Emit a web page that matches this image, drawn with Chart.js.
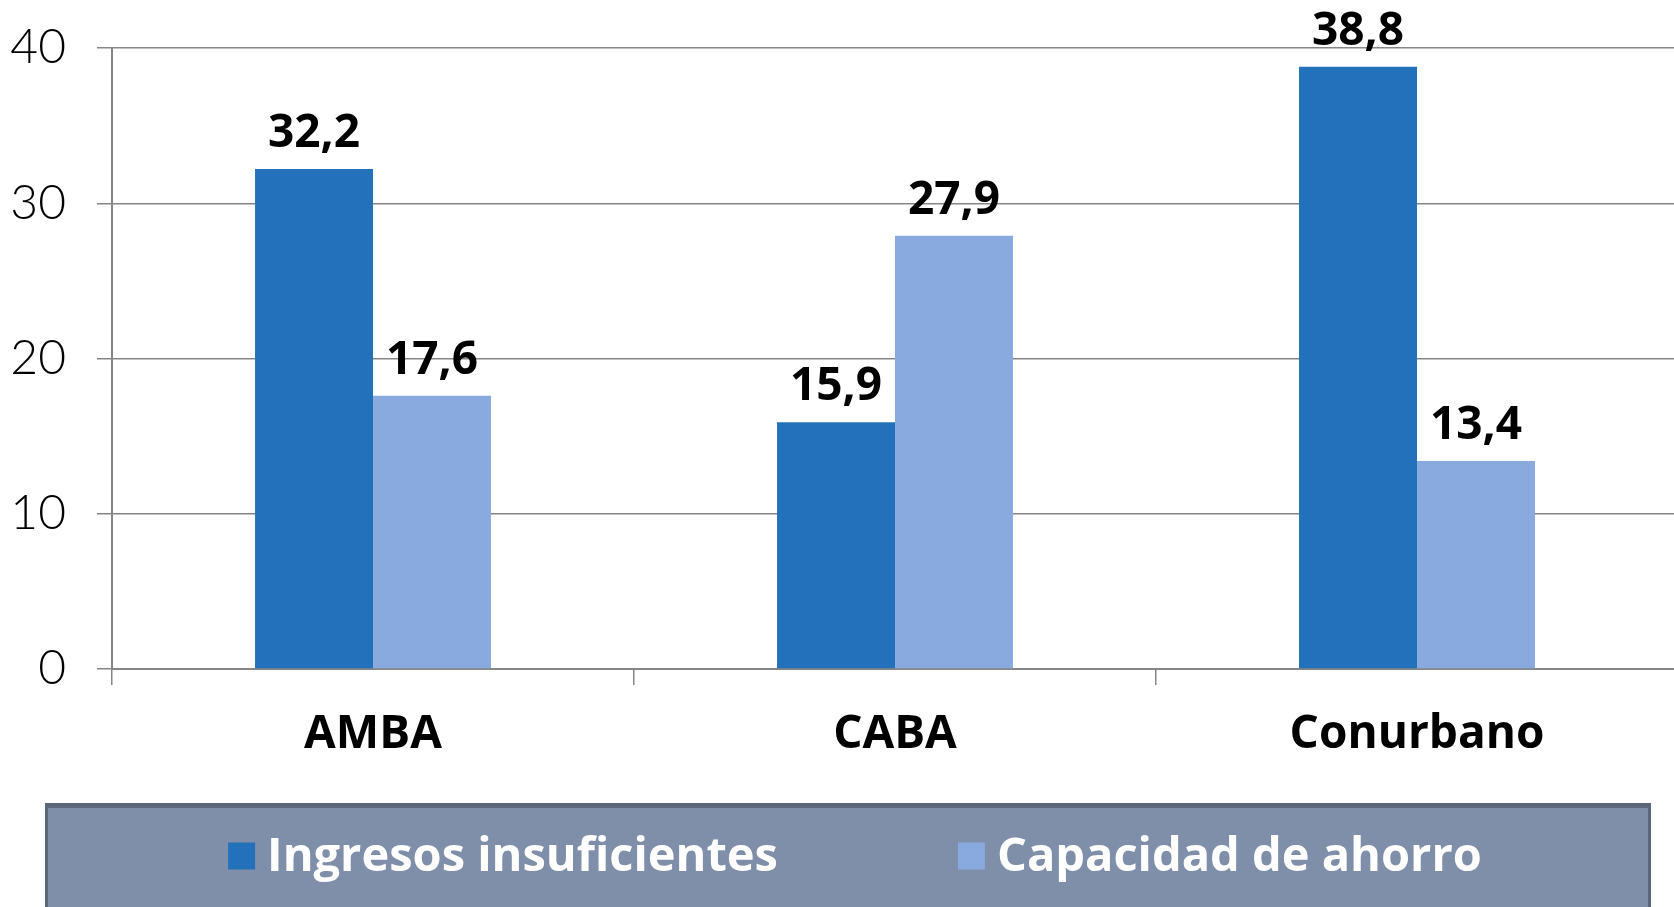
<!DOCTYPE html>
<html>
<head>
<meta charset="utf-8">
<script src="https://cdn.jsdelivr.net/npm/chart.js@4/dist/chart.umd.min.js"></script>
<style>
html,body{margin:0;padding:0;background:#fff;overflow:hidden;width:1674px;height:907px;}
canvas{display:block;}
</style>
</head>
<body>
<canvas id="c" width="1680" height="907"></canvas>
<script>
const categories = ["AMBA", "CABA", "Conurbano"];
const ingresosInsuficientes = [32.2, 15.9, 38.8];
const capacidadDeAhorro = [17.6, 27.9, 13.4];
const seriesNames = ["Ingresos insuficientes", "Capacidad de ahorro"];
const yTicks = [0, 10, 20, 30, 40];

const BOLD = '"Open Sans", "DejaVu Sans", sans-serif';
const LIGHT = 'Lato, "Open Sans", sans-serif';

const fmt = v => v.toFixed(1).replace('.', ',');

const valueLabels = {
  id: 'valueLabels',
  afterDatasetsDraw(chart) {
    const ctx = chart.ctx;
    ctx.save();
    ctx.font = '700 46px ' + BOLD;
    ctx.fillStyle = '#000';
    ctx.textAlign = 'center';
    ctx.textBaseline = 'alphabetic';
    chart.data.datasets.forEach((ds, i) => {
      const meta = chart.getDatasetMeta(i);
      meta.data.forEach((bar, j) => {
        ctx.fillText(fmt(ds.data[j]), bar.x, bar.y - 22);
      });
    });
    ctx.restore();
  }
};

const boxedLegend = {
  id: 'boxedLegend',
  afterDraw(chart) {
    const ctx = chart.ctx;
    ctx.save();
    const bx = 45, by = 803, bw = 1606, bh = 120;
    ctx.fillStyle = '#7f8fa9';
    ctx.fillRect(bx, by, bw, bh);
    ctx.strokeStyle = '#5c6679';
    ctx.lineWidth = 3;
    ctx.strokeRect(bx + 1.5, by + 1.5, bw - 3, bh);
    ctx.fillStyle = '#5c6679';
    ctx.fillRect(bx, by, bw, 5);
    ctx.font = '700 47px ' + BOLD;
    ctx.textBaseline = 'middle';
    ctx.textAlign = 'left';
    const sq = 27, gap = 12, itemGap = 180, cy = 856;
    const items = chart.data.datasets.map(ds => ({
      label: ds.label, color: ds.backgroundColor,
      w: sq + gap + ctx.measureText(ds.label).width
    }));
    const total = items.reduce((a, it) => a + it.w, 0) + itemGap * (items.length - 1);
    let x = 855 - total / 2;
    items.forEach(it => {
      ctx.fillStyle = it.color;
      ctx.fillRect(x, cy - sq / 2, sq, sq);
      ctx.fillStyle = '#ffffff';
      ctx.fillText(it.label, x + sq + gap, cy + 2);
      x += it.w + itemGap;
    });
    ctx.restore();
  }
};

new Chart(document.getElementById('c'), {
  type: 'bar',
  data: {
    labels: categories,
    datasets: [
      { label: seriesNames[0], data: ingresosInsuficientes, backgroundColor: '#2371bb',
        categoryPercentage: 0.452, barPercentage: 1.0 },
      { label: seriesNames[1], data: capacidadDeAhorro, backgroundColor: '#89aadf',
        categoryPercentage: 0.452, barPercentage: 1.0 }
    ]
  },
  options: {
    responsive: false,
    animation: false,
    layout: { padding: { top: 48, right: 2, bottom: 104, left: 0 } },
    plugins: { legend: { display: false }, tooltip: { enabled: false } },
    scales: {
      x: {
        offset: true,
        grid: { offset: true, drawOnChartArea: false, drawTicks: true, tickLength: 16,
                color: '#868686', lineWidth: 1.5 },
        border: { display: true, color: '#868686', width: 2 },
        ticks: { color: '#000', font: { family: BOLD, size: 46, weight: '700' }, padding: 22 },
        afterFit(axis) { axis.height = 134; axis.paddingLeft = 0; axis.paddingRight = 0; }
      },
      y: {
        min: 0, max: 40,
        afterBuildTicks(axis) { axis.ticks = yTicks.map(v => ({ value: v })); },
        grid: { color: '#868686', lineWidth: 1.5, tickLength: 15 },
        border: { display: true, color: '#868686', width: 2 },
        ticks: { color: '#000', font: { family: LIGHT, size: 48, weight: '300' }, padding: 31 },
        afterFit(axis) { axis.width = 112; axis.paddingTop = 0; axis.paddingBottom = 0; }
      }
    }
  },
  plugins: [valueLabels, boxedLegend]
});
</script>
</body>
</html>
